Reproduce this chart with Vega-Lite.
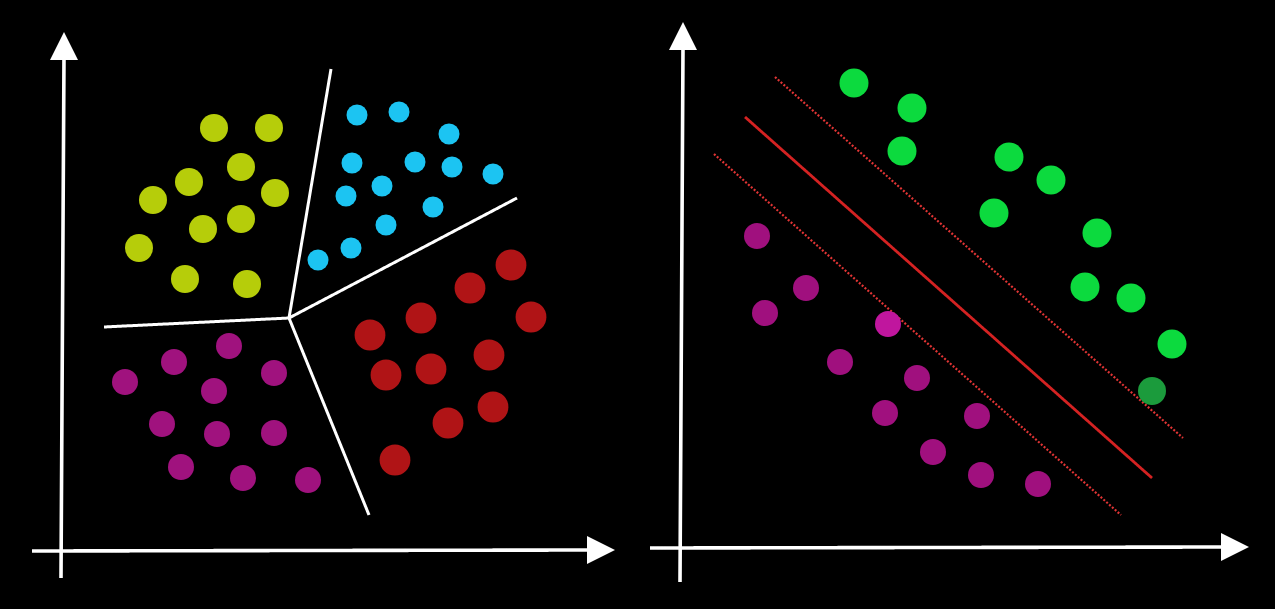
{
  "$schema": "https://vega.github.io/schema/vega-lite/v6.json",
  "width": 1275,
  "height": 609,
  "autosize": {"type": "fit", "contains": "padding"},
  "padding": 0,
  "background": "#000000",
  "config": {"view": {"stroke": null}},
  "datasets": {
    "points": [
      {"x": 214, "y": 128, "g": "A"}, {"x": 269, "y": 128, "g": "A"}, {"x": 241, "y": 167, "g": "A"},
      {"x": 189, "y": 182, "g": "A"}, {"x": 275, "y": 193, "g": "A"}, {"x": 153, "y": 200, "g": "A"},
      {"x": 241, "y": 219, "g": "A"}, {"x": 203, "y": 229, "g": "A"}, {"x": 139, "y": 248, "g": "A"},
      {"x": 185, "y": 279, "g": "A"}, {"x": 247, "y": 284, "g": "A"},
      {"x": 357, "y": 115, "g": "B"}, {"x": 399, "y": 112, "g": "B"}, {"x": 449, "y": 134, "g": "B"},
      {"x": 352, "y": 163, "g": "B"}, {"x": 415, "y": 162, "g": "B"}, {"x": 452, "y": 167, "g": "B"},
      {"x": 493, "y": 174, "g": "B"}, {"x": 382, "y": 186, "g": "B"}, {"x": 346, "y": 196, "g": "B"},
      {"x": 433, "y": 207, "g": "B"}, {"x": 386, "y": 225, "g": "B"}, {"x": 351, "y": 248, "g": "B"},
      {"x": 318, "y": 260, "g": "B"},
      {"x": 511, "y": 265, "g": "C"}, {"x": 470, "y": 288, "g": "C"}, {"x": 531, "y": 317, "g": "C"},
      {"x": 421, "y": 318, "g": "C"}, {"x": 370, "y": 335, "g": "C"}, {"x": 489, "y": 355, "g": "C"},
      {"x": 431, "y": 369, "g": "C"}, {"x": 386, "y": 375, "g": "C"}, {"x": 493, "y": 407, "g": "C"},
      {"x": 448, "y": 423, "g": "C"}, {"x": 395, "y": 460, "g": "C"},
      {"x": 229, "y": 346, "g": "D"}, {"x": 174, "y": 362, "g": "D"}, {"x": 125, "y": 382, "g": "D"},
      {"x": 274, "y": 373, "g": "D"}, {"x": 214, "y": 391, "g": "D"}, {"x": 162, "y": 424, "g": "D"},
      {"x": 217, "y": 434, "g": "D"}, {"x": 274, "y": 433, "g": "D"}, {"x": 181, "y": 467, "g": "D"},
      {"x": 243, "y": 478, "g": "D"}, {"x": 308, "y": 480, "g": "D"},
      {"x": 854, "y": 83, "g": "E"}, {"x": 912, "y": 108, "g": "E"}, {"x": 902, "y": 151, "g": "E"},
      {"x": 1009, "y": 157, "g": "E"}, {"x": 1051, "y": 180, "g": "E"}, {"x": 994, "y": 213, "g": "E"},
      {"x": 1097, "y": 233, "g": "E"}, {"x": 1085, "y": 287, "g": "E"}, {"x": 1131, "y": 298, "g": "E"},
      {"x": 1172, "y": 344, "g": "E"}, {"x": 1152, "y": 391, "g": "F"},
      {"x": 757, "y": 236, "g": "G"}, {"x": 806, "y": 288, "g": "G"}, {"x": 765, "y": 313, "g": "G"},
      {"x": 888, "y": 324, "g": "H"}, {"x": 840, "y": 362, "g": "G"}, {"x": 917, "y": 378, "g": "G"},
      {"x": 885, "y": 413, "g": "G"}, {"x": 977, "y": 416, "g": "G"}, {"x": 933, "y": 452, "g": "G"},
      {"x": 981, "y": 475, "g": "G"}, {"x": 1038, "y": 484, "g": "G"}
    ],
    "segments": [
      {"x": 61, "y": 578, "x2": 64, "y2": 56, "k": "axis"},
      {"x": 32, "y": 551, "x2": 590, "y2": 550, "k": "axis"},
      {"x": 680, "y": 582, "x2": 683, "y2": 48, "k": "axis"},
      {"x": 650, "y": 548, "x2": 1226, "y2": 547, "k": "axis"},
      {"x": 289, "y": 318, "x2": 331, "y2": 69, "k": "border"},
      {"x": 289, "y": 318, "x2": 517, "y2": 198, "k": "border"},
      {"x": 289, "y": 318, "x2": 104, "y2": 327, "k": "border"},
      {"x": 289, "y": 318, "x2": 369, "y2": 515, "k": "border"},
      {"x": 745, "y": 117, "x2": 1152, "y2": 478, "k": "svm"},
      {"x": 775, "y": 77, "x2": 1183, "y2": 438, "k": "margin"},
      {"x": 714, "y": 154, "x2": 1121, "y2": 515, "k": "margin"}
    ],
    "arrows": [
      {"x": 64, "y": 46, "d": "up"},
      {"x": 601, "y": 550, "d": "right"},
      {"x": 683, "y": 36, "d": "up"},
      {"x": 1235, "y": 547, "d": "right"}
    ]
  },
  "resolve": {"scale": {"color": "independent", "size": "independent", "shape": "independent", "strokeWidth": "independent", "strokeDash": "independent"}},
  "layer": [
    {
      "data": {"name": "segments"},
      "mark": {"type": "rule", "strokeCap": "butt"},
      "encoding": {
        "x": {"field": "x", "type": "quantitative", "scale": {"domain": [0, 1275], "nice": false, "zero": false}, "axis": null},
        "y": {"field": "y", "type": "quantitative", "scale": {"domain": [0, 609], "nice": false, "zero": false, "reverse": true}, "axis": null},
        "x2": {"field": "x2"},
        "y2": {"field": "y2"},
        "color": {"field": "k", "type": "nominal", "scale": {"domain": ["axis", "border", "svm", "margin"], "range": ["#ffffff", "#ffffff", "#d42222", "#e03434"]}, "legend": null},
        "strokeWidth": {"field": "k", "type": "nominal", "scale": {"type": "ordinal", "domain": ["axis", "border", "svm", "margin"], "range": [3.6, 3, 2.8, 2.2]}, "legend": null},
        "strokeDash": {"field": "k", "type": "nominal", "scale": {"domain": ["axis", "border", "svm", "margin"], "range": [[1, 0], [1, 0], [1, 0], [2, 1.8]]}, "legend": null}
      }
    },
    {
      "data": {"name": "arrows"},
      "mark": {"type": "point", "filled": true, "opacity": 1, "color": "#ffffff", "size": 784},
      "encoding": {
        "x": {"field": "x", "type": "quantitative"},
        "y": {"field": "y", "type": "quantitative"},
        "shape": {"field": "d", "type": "nominal", "scale": {"domain": ["up", "right"], "range": ["M0,-1L-1,1L1,1Z", "M1,0L-1,-1L-1,1Z"]}, "legend": null}
      }
    },
    {
      "data": {"name": "points"},
      "mark": {"type": "circle", "opacity": 1},
      "encoding": {
        "x": {"field": "x", "type": "quantitative"},
        "y": {"field": "y", "type": "quantitative"},
        "color": {"field": "g", "type": "nominal", "scale": {"domain": ["A", "B", "C", "D", "E", "F", "G", "H"], "range": ["#b6cd0a", "#1cc4f2", "#b01416", "#a0127e", "#0cda3e", "#1b9b3c", "#a0107e", "#c0169e"]}, "legend": null},
        "size": {"field": "g", "type": "nominal", "scale": {"type": "ordinal", "domain": ["A", "B", "C", "D", "E", "F", "G", "H"], "range": [784, 441, 950, 676, 841, 784, 676, 676]}, "legend": null}
      }
    }
  ]
}
